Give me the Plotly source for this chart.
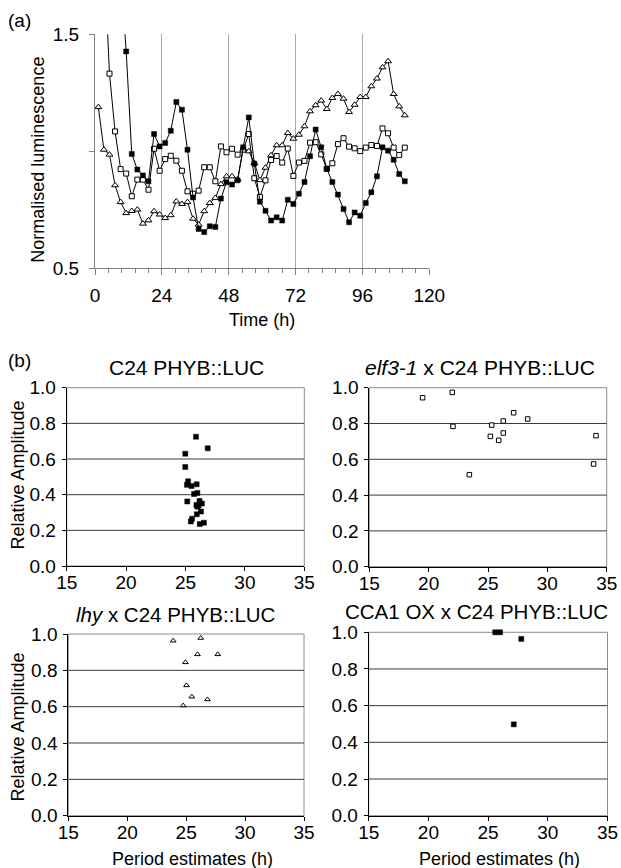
import plotly.graph_objects as go

W, H = 621, 868

# ---------------- Panel (a) data ----------------
time_h = [1.2, 3.2, 5.2, 7.2, 9.2, 11.2, 13.2, 15.2, 17.2, 19.2,
          21.2, 23.2, 25.2, 27.2, 29.2, 31.2, 33.2, 35.2, 37.2, 39.2,
          41.2, 43.2, 45.2, 47.2, 49.2, 51.2, 53.2, 55.2, 57.2, 59.2,
          61.2, 63.2, 65.2, 67.2, 69.2, 71.2, 73.2, 75.2, 77.2, 79.2,
          81.2, 83.2, 85.2, 87.2, 89.2, 91.2, 93.2, 95.2, 97.2, 99.2,
          101.2, 103.2, 105.2, 107.2, 109.2, 111.2]

c24_lum = [3.0, 2.6, 2.3, 2.0, 1.76, 1.427, 0.989, 0.922, 0.897, 0.872,
           1.074, 1.021, 1.036, 1.088, 1.211, 1.178, 1.007, 0.803, 0.668, 0.655,
           0.680, 0.677, 0.798, 0.868, 0.858, 0.876, 1.017, 1.145, 0.947, 0.785,
           0.746, 0.704, 0.718, 0.704, 0.793, 0.775, 0.819, 0.869, 0.979, 1.093,
           1.017, 0.926, 0.869, 0.815, 0.754, 0.697, 0.739, 0.725, 0.779, 0.825,
           0.893, 1.017, 1.003, 0.964, 0.903, 0.872]

elf3_lum = [2.3, 1.85, 1.332, 1.085, 0.924, 0.905, 0.808, 0.879, 0.879, 0.836,
            1.011, 0.917, 0.967, 0.981, 0.960, 0.917, 0.829, 0.819, 0.832, 0.932,
            0.932, 0.872, 1.021, 0.996, 1.011, 0.986, 1.007, 1.074, 0.885, 0.805,
            0.876, 0.963, 0.980, 0.952, 1.012, 0.895, 0.952, 0.959, 1.037, 1.039,
            0.987, 0.925, 0.949, 1.031, 1.056, 1.020, 1.013, 1.001, 1.016, 1.027,
            1.023, 1.098, 1.077, 1.016, 0.984, 1.016]

lhy_lum = [1.189, 1.007, 0.986, 0.855, 0.783, 0.736, 0.745, 0.751, 0.691, 0.705,
           0.744, 0.730, 0.715, 0.727, 0.786, 0.775, 0.783, 0.712, 0.687, 0.744,
           0.779, 0.801, 0.860, 0.893, 0.893, 0.880, 1.010, 1.000, 0.950, 0.877,
           0.930, 0.983, 1.026, 1.026, 1.078, 1.054, 1.071, 1.107, 1.171, 1.197,
           1.217, 1.181, 1.228, 1.245, 1.225, 1.168, 1.199, 1.232, 1.232, 1.278,
           1.311, 1.359, 1.385, 1.245, 1.192, 1.154]

time_ticks = [0, 24, 48, 72, 96, 120]
lum_tickvals = [0.5, 1.0, 1.5]
lum_ticktext = ["0.5", "", "1.5"]

# ---------------- Panel (b) data ----------------
c24_period = [25.88, 26.87, 24.98, 24.98, 25.22, 25.12, 25.50, 25.94, 25.72, 26.00,
              25.15, 26.18, 25.92, 26.38, 26.00, 26.30, 25.95, 25.55, 25.45, 26.20,
              26.55, 26.10]
c24_amp = [0.725, 0.660, 0.630, 0.555, 0.475, 0.455, 0.448, 0.458, 0.404, 0.410,
           0.362, 0.365, 0.342, 0.350, 0.333, 0.305, 0.290, 0.265, 0.250, 0.235,
           0.243, 0.340]

elf3_period = [19.49, 21.99, 22.05, 23.43, 25.20, 25.31, 25.90, 26.29, 26.29, 27.16,
               28.34, 33.90, 34.10]
elf3_amp = [0.944, 0.974, 0.784, 0.514, 0.728, 0.791, 0.706, 0.747, 0.814, 0.860,
            0.825, 0.574, 0.732]

lhy_period = [23.90, 26.24, 24.94, 25.96, 27.68, 25.03, 25.48, 26.81, 24.75]
lhy_amp = [0.963, 0.978, 0.844, 0.888, 0.888, 0.717, 0.655, 0.640, 0.606]

cca1_period = [25.60, 26.00, 27.78, 27.15]
cca1_amp = [1.000, 1.000, 0.964, 0.498]

period_ticks = [15, 20, 25, 30, 35]
amp_ticks = [0.0, 0.2, 0.4, 0.6, 0.8, 1.0]

panel_titles = ["C24 PHYB::LUC", "<i>elf3-1</i> x C24 PHYB::LUC",
                "<i>lhy</i> x C24 PHYB::LUC", "CCA1 OX x C24 PHYB::LUC"]

FONT = "Liberation Sans, Arial, Helvetica, sans-serif"


def pxx(x):
    return x / W


def pxy(y):
    return 1 - y / H


fig = go.Figure()

# Panel (a) series
fig.add_trace(go.Scatter(
    x=time_h, y=lhy_lum, mode="lines+markers", xaxis="x", yaxis="y",
    line=dict(color="black", width=1),
    marker=dict(symbol="triangle-up", size=6, color="white", line=dict(color="black", width=1)),
    showlegend=False))
fig.add_trace(go.Scatter(
    x=time_h, y=elf3_lum, mode="lines+markers", xaxis="x", yaxis="y",
    line=dict(color="black", width=1),
    marker=dict(symbol="square", size=5, color="white", line=dict(color="black", width=1)),
    showlegend=False))
fig.add_trace(go.Scatter(
    x=time_h, y=c24_lum, mode="lines+markers", xaxis="x", yaxis="y",
    line=dict(color="black", width=1),
    marker=dict(symbol="square", size=5, color="black", line=dict(color="black", width=0.5)),
    showlegend=False))

# Panel (b) scatters
fig.add_trace(go.Scatter(
    x=c24_period, y=c24_amp, mode="markers", xaxis="x2", yaxis="y2",
    marker=dict(symbol="square", size=5, color="black", line=dict(color="black", width=0.5)),
    showlegend=False))
fig.add_trace(go.Scatter(
    x=elf3_period, y=elf3_amp, mode="markers", xaxis="x3", yaxis="y3",
    marker=dict(symbol="square", size=4.5, color="white", line=dict(color="black", width=1)),
    showlegend=False))
fig.add_trace(go.Scatter(
    x=lhy_period, y=lhy_amp, mode="markers", xaxis="x4", yaxis="y4",
    marker=dict(symbol="triangle-up", size=5, color="white", line=dict(color="black", width=1)),
    showlegend=False))
fig.add_trace(go.Scatter(
    x=cca1_period, y=cca1_amp, mode="markers", xaxis="x5", yaxis="y5",
    marker=dict(symbol="square", size=5, color="black", line=dict(color="black", width=0.5)),
    showlegend=False, cliponaxis=False))

tickfont = dict(family=FONT, size=19, color="black")

layout = dict(
    width=W, height=H, margin=dict(l=0, r=0, t=0, b=0, autoexpand=False),
    paper_bgcolor="white", plot_bgcolor="white",
    font=dict(family=FONT, color="black"),
    xaxis=dict(domain=[pxx(95), pxx(429.3)], anchor="y", range=[0, 120],
               tickmode="array", tickvals=time_ticks, ticks="outside", ticklen=6,
               tickcolor="#808080", showline=True, linecolor="#808080", linewidth=1,
               showgrid=True, gridcolor="#a8a8a8", gridwidth=1, zeroline=False,
               minor=dict(dtick=4.8, tick0=0, ticks="outside", ticklen=4,
                          tickcolor="#808080", showgrid=False),
               tickfont=tickfont, ticklabelstandoff=4, automargin=False),
    yaxis=dict(domain=[pxy(268.33), pxy(34.33)], anchor="x", range=[0.5, 1.5],
               tickmode="array", tickvals=lum_tickvals, ticktext=lum_ticktext,
               ticks="outside", ticklen=5, tickcolor="#808080",
               showline=True, linecolor="#808080", linewidth=1,
               showgrid=False, zeroline=False, tickfont=tickfont, ticklabelstandoff=6,
               automargin=False),
)

panels = [
    ("2", [66.7, 304.3], [387.7, 566.0]),
    ("3", [369.3, 606.7], [387.7, 566.7]),
    ("4", [68.3, 304.0], [634.0, 815.7]),
    ("5", [368.7, 607.5], [632.3, 815.7]),
]

shapes = []
for k, xs, ys in panels:
    layout["xaxis" + k] = dict(
        domain=[pxx(xs[0]), pxx(xs[1])], anchor="y" + k, range=[15, 35],
        tickmode="array", tickvals=period_ticks, ticks="outside", ticklen=4,
        tickcolor="black", showline=True, linecolor="black", linewidth=1,
        showgrid=False, zeroline=False, tickfont=tickfont, ticklabelstandoff=-5,
        automargin=False)
    layout["yaxis" + k] = dict(
        domain=[pxy(ys[1]), pxy(ys[0])], anchor="x" + k, range=[0, 1],
        tickmode="array", tickvals=amp_ticks, tickformat=".1f", ticks="outside",
        ticklen=4, tickcolor="black", showline=True, linecolor="black", linewidth=1,
        showgrid=False, zeroline=False, tickfont=tickfont, ticklabelstandoff=2,
        automargin=False)
    # frame (grey) and horizontal grid lines
    shapes.append(dict(type="rect", xref="x%s domain" % k, yref="y%s domain" % k,
                       x0=0, x1=1, y0=0, y1=1, line=dict(color="#8c8c8c", width=1),
                       layer="below"))
    for g in amp_ticks[1:-1]:
        shapes.append(dict(type="line", xref="x%s domain" % k, yref="y" + k,
                           x0=0, x1=1, y0=g, y1=g, line=dict(color="#3c3c3c", width=1),
                           layer="below"))

layout["shapes"] = shapes


def ann(text, x, y, size, angle=0, xanchor="center"):
    return dict(text=text, x=pxx(x), y=pxy(y), xref="paper", yref="paper",
                showarrow=False, xanchor=xanchor, yanchor="middle", textangle=angle,
                font=dict(family=FONT, size=size, color="black"))


annotations = [
    ann("(a)", 6, 20, 19, xanchor="left"),
    ann("Normalised luminescence", 37.7, 160, 18, angle=-90),
    ann("Time (h)", 262, 320, 18),
    ann("(b)", 6, 361, 19, xanchor="left"),
    ann(panel_titles[0], 186, 368, 21),
    ann(panel_titles[1], 480, 368, 21),
    ann(panel_titles[2], 176, 614.5, 20.5),
    ann(panel_titles[3], 476, 611, 20.5),
    ann("Relative Amplitude", 17.5, 475, 18, angle=-90),
    ann("Relative Amplitude", 17.5, 727, 18, angle=-90),
    ann("Period estimates (h)", 192.5, 859, 18),
    ann("Period estimates (h)", 499, 859, 18),
]
layout["annotations"] = annotations

fig.update_layout(**layout)
fig.write_html("out.html")
